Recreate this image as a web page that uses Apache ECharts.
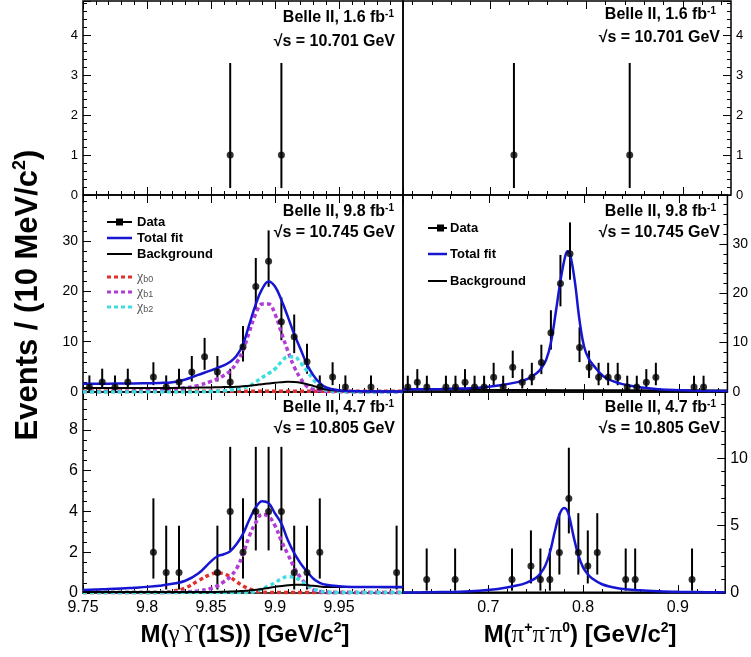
<!DOCTYPE html>
<html><head><meta charset="utf-8">
<script src="https://cdn.jsdelivr.net/npm/echarts@6/dist/echarts.min.js"></script>
<style>html,body{margin:0;padding:0;background:#fff}#c{width:751px;height:657px}</style>
</head><body><div id="c"></div><script>
// ---------------- DATA ----------------
// Poisson (Garwood 68%) interval bounds indexed by observed count
const garLo = [0,0.173,0.708,1.367,2.086,2.840,3.620,4.419,5.232,6.057,6.891,7.734,8.585,9.441,10.30,11.17,12.04,12.92,13.80,14.68,15.57,16.45,17.35,18.24,19.14,20.03,20.93,21.84,22.74,23.65,24.55];
const garHi = [1.841,3.300,4.638,5.918,7.163,8.382,9.584,10.77,11.95,13.11,14.27,15.42,16.56,17.70,18.83,19.96,21.08,22.20,23.32,24.44,25.55,26.66,27.76,28.87,29.97,31.07,32.16,33.26,34.35,35.44,36.53];

// Left column: M(gamma Upsilon(1S))
const topL_x = [9.865, 9.905];
const topL_y = [1, 1];
const midL_x = [9.755,9.765,9.775,9.785,9.805,9.815,9.825,9.835,9.845,9.855,9.865,9.875,9.885,9.895,9.905,9.915,9.925,9.935,9.945,9.955,9.975];
const midL_y = [1,2,1,2,3,1,2,4,7,4,2,9,21,26,14,11,6,1,3,1,1];
const botL_x = [9.805,9.815,9.825,9.855,9.865,9.875,9.885,9.895,9.905,9.915,9.925,9.935,9.995];
const botL_y = [2,1,1,1,4,2,4,4,4,1,1,2,1];

const curveL_x = [9.75,9.76,9.77,9.78,9.79,9.80,9.81,9.82,9.83,9.84,9.85,9.855,9.86,9.865,9.87,9.875,9.88,9.885,9.89,9.895,9.90,9.905,9.91,9.915,9.92,9.925,9.93,9.935,9.94,9.95,9.96,9.97,9.98,9.99,10.0];
const midL_total = [1.65,1.65,1.65,1.7,1.7,1.75,1.8,1.95,2.5,3.4,4.3,4.8,5.3,6.0,7.2,9.5,13.5,17.5,20.5,22.0,21.0,18.3,15.0,11.5,8.5,5.5,3.3,1.8,0.9,0.35,0.2,0.15,0.12,0.1,0.1];
const midL_bkg = [0.8,0.8,0.8,0.8,0.8,0.8,0.8,0.82,0.85,0.88,0.92,0.95,0.98,1.0,1.05,1.15,1.25,1.4,1.55,1.7,1.85,1.95,2.05,2.0,1.85,1.55,1.2,0.85,0.5,0.25,0.15,0.12,0.1,0.1,0.1];
const midL_b0 = [0.15,0.15,0.15,0.15,0.15,0.15,0.15,0.15,0.15,0.15,0.15,0.15,0.15,0.15,0.15,0.15,0.15,0.15,0.15,0.15,0.15,0.15,0.15,0.15,0.15,0.15,0.15,0.15,0.15,0.15,0.15,0.15,0.15,0.15,0.15];
const midL_b1 = [0.05,0.06,0.08,0.1,0.15,0.25,0.35,0.55,0.8,1.3,2.1,2.6,3.3,4.2,5.8,8.3,12.0,15.6,17.5,17.5,15.5,11.8,8.2,5.0,2.7,1.1,0.5,0.25,0.1,0.03,0.02,0.02,0.02,0.02,0.02];
const midL_b2 = [0.02,0.02,0.02,0.02,0.02,0.02,0.02,0.02,0.02,0.02,0.08,0.15,0.25,0.4,0.6,0.85,1.2,2.0,2.9,3.7,4.6,6.0,7.0,7.0,5.8,4.2,2.5,1.1,0.4,0.08,0.02,0.02,0.02,0.02,0.02];

const botL_total = [0.15,0.17,0.2,0.22,0.26,0.3,0.36,0.45,0.6,0.95,1.55,1.8,1.9,2.05,2.4,2.9,3.6,4.2,4.5,4.4,3.9,3.4,2.6,1.95,1.45,1.05,0.7,0.5,0.4,0.33,0.3,0.3,0.3,0.3,0.3];
const botL_bkg = [0.05,0.05,0.05,0.05,0.05,0.05,0.05,0.05,0.05,0.05,0.05,0.05,0.06,0.07,0.08,0.1,0.12,0.16,0.2,0.25,0.3,0.34,0.38,0.4,0.4,0.38,0.35,0.32,0.3,0.3,0.3,0.29,0.29,0.28,0.28];
const botL_b0 = [0.02,0.02,0.02,0.02,0.02,0.02,0.02,0.08,0.25,0.6,0.92,0.98,0.95,0.78,0.55,0.35,0.2,0.1,0.05,0.02,0.02,0.02,0.02,0.02,0.02,0.02,0.02,0.02,0.02,0.02,0.02,0.02,0.02,0.02,0.02];
const botL_b1 = [0.02,0.02,0.02,0.02,0.02,0.02,0.02,0.02,0.05,0.1,0.22,0.35,0.55,0.8,1.2,1.9,2.8,3.45,3.85,3.75,3.3,2.55,1.9,1.25,0.75,0.4,0.16,0.07,0.03,0.02,0.02,0.02,0.02,0.02,0.02];
const botL_b2 = [0.02,0.02,0.02,0.02,0.02,0.02,0.02,0.02,0.02,0.02,0.02,0.02,0.02,0.02,0.02,0.02,0.02,0.1,0.2,0.35,0.5,0.7,0.8,0.78,0.6,0.4,0.2,0.1,0.04,0.02,0.02,0.02,0.02,0.02,0.02];

// Right column: M(pi+ pi- pi0)
const topR_x = [0.725, 0.845];
const topR_y = [1, 1];
const midR_x = [0.615,0.625,0.635,0.655,0.665,0.675,0.685,0.695,0.705,0.715,0.725,0.735,0.745,0.755,0.765,0.775,0.785,0.795,0.805,0.815,0.825,0.835,0.845,0.855,0.865,0.875,0.915,0.925];
const midR_y = [1,2,1,1,1,2,1,1,3,1,5,2,3,6,12,22,28,9,5,3,3,3,1,1,2,3,1,1];
const botR_x = [0.635,0.665,0.725,0.745,0.755,0.765,0.775,0.785,0.795,0.805,0.815,0.845,0.855,0.915];
const botR_y = [1,1,1,2,1,1,3,7,3,2,3,1,1,1];

const curveR_x = [0.61,0.63,0.65,0.67,0.69,0.71,0.73,0.74,0.75,0.755,0.76,0.765,0.77,0.775,0.78,0.7825,0.785,0.79,0.795,0.80,0.805,0.81,0.82,0.83,0.84,0.86,0.88,0.90,0.92,0.95];
const midR_total = [0.5,0.55,0.6,0.7,0.85,1.3,2.0,2.6,3.8,4.8,6.5,10.0,16.0,22.5,27.5,28.5,28.0,22.5,14.5,9.0,6.6,5.3,3.2,2.2,1.6,0.9,0.5,0.35,0.25,0.2];
const botR_total = [0.04,0.05,0.07,0.1,0.17,0.3,0.55,0.75,1.1,1.45,2.0,3.0,4.5,5.8,6.3,6.2,5.8,4.2,2.8,1.9,1.4,1.05,0.65,0.45,0.32,0.2,0.13,0.09,0.07,0.05];
const bkgR_x = [0.61, 0.78, 0.95];
const midR_bkg = [0.45, 0.37, 0.3];
const botR_bkg = [0.03, 0.03, 0.03];

// Axis tick values
const xTicksR = [0.7, 0.8, 0.9];
const xMinorR = [0.62,0.64,0.66,0.68,0.72,0.74,0.76,0.78,0.82,0.84,0.86,0.88,0.92,0.94];

// ---------------- CHART ----------------
const FONT = "'Liberation Sans', Arial, Helvetica, sans-serif";
const SERIF = "'Liberation Serif', 'DejaVu Serif', serif";
const BLUE = '#1616d2', RED = '#e0302c', PURPLE = '#b23cd6', CYAN = '#3fdde0';

const gridDefs = [
  {left:83, top:1, width:320, height:194},
  {left:403, top:1, width:328, height:194},
  {left:83, top:195, width:320, height:197},
  {left:403, top:195, width:328, height:197},
  {left:83, top:392, width:320, height:201},
  {left:403, top:392, width:328, height:201}
];
const yDefs = [
  {max:4.85, interval:1, minor:5, fs:13},
  {max:4.85, interval:1, minor:5, fs:13},
  {max:39.2, interval:10, minor:5, fs:14},
  {max:39.9, interval:10, minor:5, fs:14},
  {max:9.85, interval:2, minor:4, fs:16},
  {max:14.9, interval:5, minor:5, fs:16}
];

const tickStyle = {color:'#000', width:1};
const labelBase = {color:'#000', fontFamily:FONT, fontSize:16};
const grids = gridDefs.map(g => Object.assign({show:true, borderColor:'#000', borderWidth:1.5, backgroundColor:'transparent', containLabel:false}, g));

const titleRich = {
  b:{fontFamily:FONT, fontWeight:'bold', fontSize:24, color:'#000', lineHeight:28},
  g:{fontFamily:SERIF, fontSize:25, color:'#000', lineHeight:28},
  s:{fontFamily:FONT, fontWeight:'bold', fontSize:14, color:'#000', lineHeight:14, verticalAlign:'top'}
};

const xAxes = [], xMain = [];
gridDefs.forEach((g, i) => {
  const left = i % 2 === 0, bottomRow = i >= 4;
  if (left) {
    ['bottom','top'].forEach(pos => {
      if (pos === 'bottom') xMain[i] = xAxes.length;
      xAxes.push({
        gridIndex:i, type:'value', min:9.75, max:10.0, interval:0.05, position:pos,
        axisLine:{show:false, onZero:false},
        axisTick:{show:true, inside:true, length:8, lineStyle:tickStyle},
        minorTick:{show:true, splitNumber:5, length:4, lineStyle:tickStyle},
        splitLine:{show:false},
        axisLabel:{show: pos === 'bottom' && bottomRow, showMaxLabel:false, margin:7, ...labelBase},
        name: (pos === 'bottom' && bottomRow) ? '{b|M(}{g|γϒ}{b|(1S)) [GeV/c}{s|2}{b|]}' : '',
        nameLocation:'middle', nameGap:28,
        nameTextStyle:{padding:[0,0,0,4], rich:titleRich}
      });
    });
  } else {
    ['bottom','top'].forEach(pos => {
      if (pos === 'bottom') xMain[i] = xAxes.length;
      xAxes.push({
        gridIndex:i, type:'value', min:0.61, max:0.95, position:pos,
        axisLine:{show:false, onZero:false},
        axisTick:{show:true, inside:true, length:8, lineStyle:tickStyle, customValues:xTicksR},
        splitLine:{show:false},
        axisLabel:{show: pos === 'bottom' && bottomRow, customValues:xTicksR, margin:7, ...labelBase},
        name: (pos === 'bottom' && bottomRow) ? '{b|M(}{g|π}{s|+}{g|π}{s|-}{g|π}{s|0}{b|) [GeV/c}{s|2}{b|]}' : '',
        nameLocation:'middle', nameGap:28,
        nameTextStyle:{padding:[0,0,0,32], rich:titleRich}
      });
      xAxes.push({
        gridIndex:i, type:'value', min:0.61, max:0.95, position:pos,
        axisLine:{show:false, onZero:false},
        axisTick:{show:true, inside:true, length:4, lineStyle:tickStyle, customValues:xMinorR},
        splitLine:{show:false}, axisLabel:{show:false}
      });
    });
  }
});

const yAxes = gridDefs.map((g, i) => {
  const d = yDefs[i], left = i % 2 === 0;
  return {
    gridIndex:i, type:'value', min:0, max:d.max, interval:d.interval, position: left ? 'left' : 'right',
    axisLine:{show:false, onZero:false},
    axisTick:{show:true, inside:true, length:8, lineStyle:tickStyle},
    minorTick:{show:true, splitNumber:d.minor, length:4, lineStyle:tickStyle},
    splitLine:{show:false},
    axisLabel:{showMaxLabel:false, margin:5, color:'#000', fontFamily:FONT, fontSize:d.fs}
  };
});

function dataSeries(xs, ys, gi) {
  const xi = xMain[gi], yi = gi;
  return [
    {type:'custom', xAxisIndex:xi, yAxisIndex:yi, z:2, silent:true,
     data: xs.map((x, k) => [x, garLo[ys[k]], garHi[ys[k]]]),
     renderItem: (params, api) => {
       const a = api.coord([api.value(0), api.value(1)]);
       const b = api.coord([api.value(0), api.value(2)]);
       return {type:'line', shape:{x1:a[0], y1:a[1], x2:b[0], y2:b[1]}, style:{stroke:'#000', lineWidth:2}};
     }},
    {type:'scatter', xAxisIndex:xi, yAxisIndex:yi, z:5, silent:true, symbol:'circle', symbolSize:7,
     itemStyle:{color:'#000'}, data: xs.map((x, k) => [x, ys[k]])}
  ];
}
function curve(xs, ys, gi, color, width, dash, z) {
  return {type:'line', xAxisIndex:xMain[gi], yAxisIndex:gi, z: z || 3, silent:true,
    data: xs.map((x, k) => [x, ys[k]]), showSymbol:false, symbol:'none', smooth:0.4, clip:true,
    lineStyle:{color:color, width:width, type: dash || 'solid', cap:'butt'}};
}
const DASH = [4, 3];

const series = [].concat(
  dataSeries(topL_x, topL_y, 0),
  dataSeries(topR_x, topR_y, 1),
  // middle left
  curve(curveL_x, midL_b0, 2, RED, 3.5, DASH, 3),
  curve(curveL_x, midL_b1, 2, PURPLE, 3.5, DASH, 3),
  curve(curveL_x, midL_b2, 2, CYAN, 3.5, DASH, 3),
  curve(curveL_x, midL_bkg, 2, '#000', 2, 'solid', 3),
  curve(curveL_x, midL_total, 2, BLUE, 2.5, 'solid', 4),
  dataSeries(midL_x, midL_y, 2),
  // middle right
  curve(bkgR_x, midR_bkg, 3, '#000', 2, 'solid', 3),
  curve(curveR_x, midR_total, 3, BLUE, 2.5, 'solid', 4),
  dataSeries(midR_x, midR_y, 3),
  // bottom left
  curve(curveL_x, botL_b0, 4, RED, 3.5, DASH, 3),
  curve(curveL_x, botL_b1, 4, PURPLE, 3.5, DASH, 3),
  curve(curveL_x, botL_b2, 4, CYAN, 3.5, DASH, 3),
  curve(curveL_x, botL_bkg, 4, '#000', 2, 'solid', 3),
  curve(curveL_x, botL_total, 4, BLUE, 2.5, 'solid', 4),
  dataSeries(botL_x, botL_y, 4),
  // bottom right
  curve(bkgR_x, botR_bkg, 5, '#000', 2, 'solid', 3),
  curve(curveR_x, botR_total, 5, BLUE, 2.5, 'solid', 4),
  dataSeries(botR_x, botR_y, 5)
);

// ---------- text annotations and legends ----------
const annRich = {
  b:{fontFamily:FONT, fontWeight:'bold', fontSize:16, fill:'#000', color:'#000', lineHeight:18},
  s:{fontFamily:FONT, fontWeight:'bold', fontSize:10, fill:'#000', color:'#000', lineHeight:10, verticalAlign:'top'}
};
function ann(xr1, xr2, y1, y2, lumi, energy) {
  return [
    {type:'text', x:xr1, y:y1, z:50, style:{text:'{b|Belle II, ' + lumi + ' fb}{s|-1}', rich:annRich, align:'right', textAlign:'right', verticalAlign:'middle', textVerticalAlign:'middle'}},
    {type:'text', x:xr2, y:y2, z:50, style:{text:'{b|√s = ' + energy + ' GeV}', rich:annRich, align:'right', textAlign:'right', verticalAlign:'middle', textVerticalAlign:'middle'}}
  ];
}
function legLine(x1, x2, y, color, width, dash) {
  return {type:'line', z:50, shape:{x1:x1, y1:y, x2:x2, y2:y}, style:{stroke:color, lineWidth:width, lineDash: dash || null}};
}
function legText(x, y, t) {
  return {type:'text', x:x, y:y, z:50, style:{text:t, fill:'#000', font:'bold 13px ' + FONT, verticalAlign:'middle', textVerticalAlign:'middle'}};
}
function chiText(x, y, sub) {
  return {type:'text', x:x, y:y, z:50, style:{text:'{c|χ}{s|' + sub + '}', verticalAlign:'middle', textVerticalAlign:'middle',
    rich:{c:{fontFamily:SERIF, fontSize:14, fill:'#555', color:'#555', lineHeight:14}, s:{fontFamily:FONT, fontSize:9, fill:'#555', color:'#555', lineHeight:9, verticalAlign:'bottom'}}}};
}

const graphics = [].concat(
  ann(394, 395, 18, 42, '1.6', '10.701'),
  ann(716, 720, 15, 38, '1.6', '10.701'),
  ann(394, 395, 212, 233, '9.8', '10.745'),
  ann(716, 720, 212, 233, '9.8', '10.745'),
  ann(394, 395, 408, 429, '4.7', '10.805'),
  ann(716, 720, 408, 429, '4.7', '10.805'),
  [
    // middle-left legend
    legLine(107, 132, 222, '#000', 2),
    {type:'rect', z:51, shape:{x:116, y:218.5, width:7, height:7}, style:{fill:'#000'}},
    legText(137, 222, 'Data'),
    legLine(107, 132, 238, BLUE, 2.5),
    legText(137, 238, 'Total fit'),
    legLine(107, 132, 254, '#000', 2),
    legText(137, 254, 'Background'),
    legLine(107, 132, 277, RED, 3, [4,3]),
    chiText(137, 277, 'b0'),
    legLine(107, 132, 292, PURPLE, 3, [4,3]),
    chiText(137, 292, 'b1'),
    legLine(107, 132, 307, CYAN, 3, [4,3]),
    chiText(137, 307, 'b2'),
    // middle-right legend
    legLine(428, 447, 228, '#000', 2),
    {type:'rect', z:51, shape:{x:437, y:224.5, width:7, height:7}, style:{fill:'#000'}},
    legText(450, 228, 'Data'),
    legLine(428, 447, 254, BLUE, 2.5),
    legText(450, 254, 'Total fit'),
    legLine(428, 447, 281, '#000', 2),
    legText(450, 281, 'Background'),
    // y title
    {type:'text', x:28, y:295, rotation:Math.PI/2, z:50, style:{
      text:'{b|Events / (10 MeV/c}{s|2}{b|)}', align:'center', textAlign:'center', verticalAlign:'middle', textVerticalAlign:'middle',
      rich:{b:{fontFamily:FONT, fontWeight:'bold', fontSize:31, fill:'#000', color:'#000', lineHeight:34},
            s:{fontFamily:FONT, fontWeight:'bold', fontSize:18, fill:'#000', color:'#000', lineHeight:18, verticalAlign:'top'}}}}
  ]
);

const chart = echarts.init(document.getElementById('c'), null, {renderer:'canvas'});
chart.setOption({
  animation:false,
  backgroundColor:'#fff',
  grid:grids,
  xAxis:xAxes,
  yAxis:yAxes,
  series:series,
  graphic:graphics
});
</script></body></html>
